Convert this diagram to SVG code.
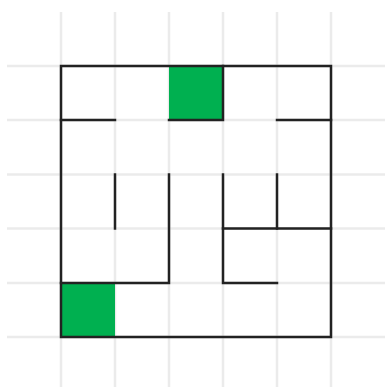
<svg xmlns="http://www.w3.org/2000/svg" width="385" height="387" viewBox="0 0 385 387">
<style>
.grid line{stroke:#ebebeb;stroke-width:2.5}
.cell{fill:#00b050}
.wall{stroke:#222;stroke-width:2.5;fill:none;stroke-linecap:square;stroke-linejoin:miter}
</style>
<rect width="385" height="387" fill="#fff"/>
<g class="grid" id="grid">
<line x1="61" y1="12" x2="61" y2="391"/>
<line x1="115" y1="12" x2="115" y2="391"/>
<line x1="169" y1="12" x2="169" y2="391"/>
<line x1="223" y1="12" x2="223" y2="391"/>
<line x1="277" y1="12" x2="277" y2="391"/>
<line x1="331" y1="12" x2="331" y2="391"/>
<line x1="7" y1="66" x2="385" y2="66"/>
<line x1="7" y1="120" x2="385" y2="120"/>
<line x1="7" y1="174.5" x2="385" y2="174.5"/>
<line x1="7" y1="228.5" x2="385" y2="228.5"/>
<line x1="7" y1="283" x2="385" y2="283"/>
<line x1="7" y1="337" x2="385" y2="337"/>
</g>
<g id="start"><rect class="cell" x="169" y="66" width="54" height="54"/></g>
<g id="goal"><rect class="cell" x="61" y="283" width="54" height="54"/></g>
<g id="walls" class="wall">
<rect x="61" y="66" width="270" height="271"/>
<path d="M61 120H115"/>
<path d="M169 120H223V66"/>
<path d="M277 120H331"/>
<path d="M115 174.5V228.5"/>
<path d="M169 174.5V283H61"/>
<path d="M277 283H223V174.5"/>
<path d="M277 174.5V228.5"/>
<path d="M223 228.5H331"/>
</g>
</svg>
